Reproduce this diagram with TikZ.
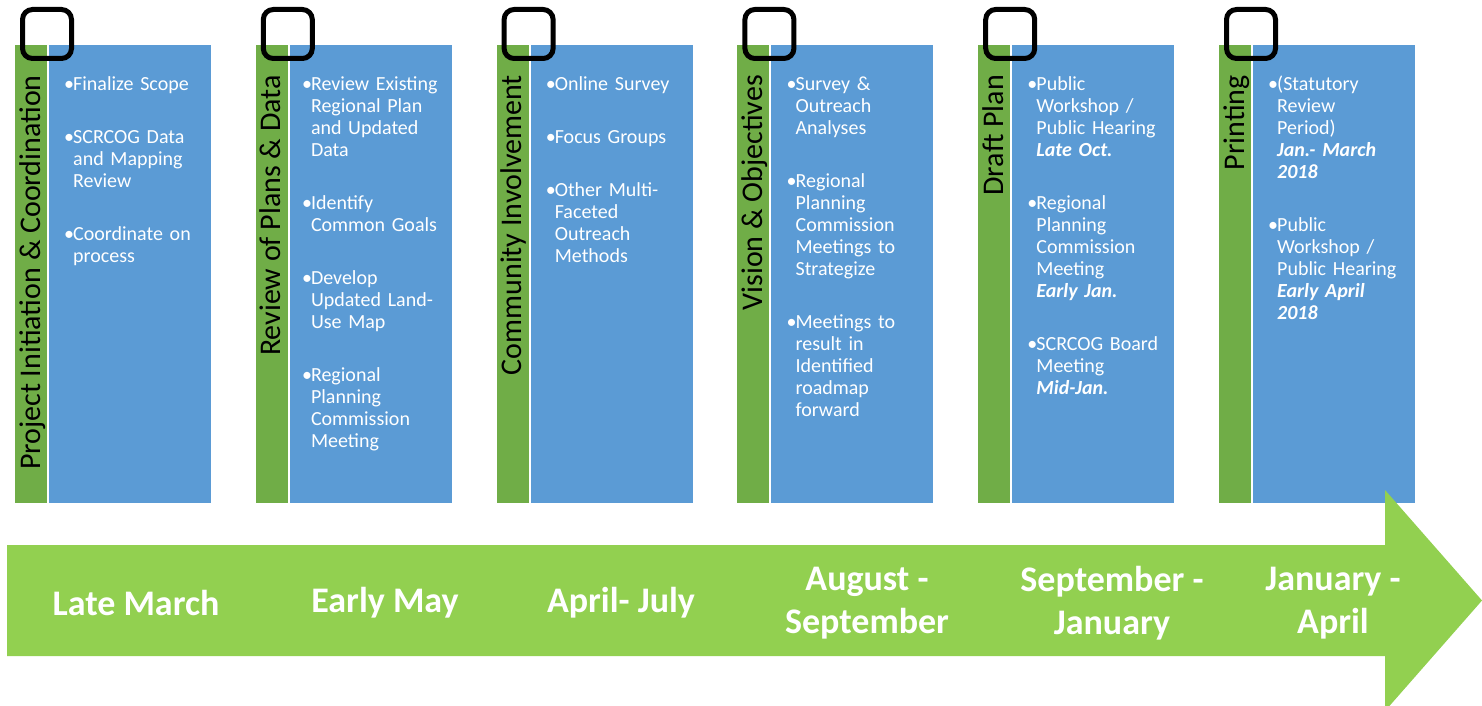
\documentclass[tikz,border=0pt]{standalone}
\usepackage{fontspec}
\setmainfont{Carlito}
\definecolor{phasegreen}{HTML}{70AD47}
\definecolor{boxblue}{HTML}{5B9BD5}
\definecolor{arrowgreen}{HTML}{92D050}
\newcommand{\itm}[1]{\hangindent=9pt\hangafter=1\noindent\strut\makebox[9pt][l]{\textbullet}#1\par}
\newcommand{\gap}{\vspace{31pt}}
\newcommand{\dt}[1]{\textbf{\textit{#1}}}
\tikzset{
  greenbar/.style={fill=phasegreen},
  bluebox/.style={fill=boxblue},
  marker/.style={draw=black,line width=5pt,rounded corners=10pt},
  phaselabel/.style={rotate=90,anchor=base east,inner sep=0pt,font=\fontsize{30}{34}\selectfont,text=black},
  itemtext/.style={anchor=north west,inner sep=0pt,text width=165pt,align=left,text=white,font=\fontsize{20}{22}\selectfont},
  datelabel/.style={anchor=center,inner sep=0pt,align=center,text=white,font=\fontsize{36}{43}\selectfont\bfseries}
}
\begin{document}
\begin{tikzpicture}[x=1pt,y=-1pt]
\useasboundingbox (0,0) rectangle (1482,706);
% columns
\foreach \k in {0,...,5}{
  \pgfmathsetmacro{\dx}{240.8*\k}
  \fill[greenbar] (15+\dx,45) rectangle (47+\dx,503);
  \fill[bluebox] (49+\dx,45) rectangle (211+\dx,503);
}
% phase labels
\node[phaselabel] (p1) at (40,75) {Project Initiation \& Coordination};
\node[phaselabel] (p2) at (280.8,75) {Review of Plans \& Data};
\node[phaselabel] (p3) at (521.6,75) {Community Involvement};
\node[phaselabel] (p4) at (762.4,75) {Vision \& Objectives};
\node[phaselabel] (p5) at (1003.2,75) {Draft Plan};
\node[phaselabel] (p6) at (1244,75) {Printing};
% item texts
\node[itemtext] (t1) at (64,74.6) {%
\itm{Finalize Scope}\gap
\itm{SCRCOG Data\newline and Mapping\newline Review}\gap
\itm{Coordinate on\newline process}};
\node[itemtext] (t2) at (301.8,74.6) {%
\itm{Review Existing\newline Regional Plan\newline and Updated\newline Data}\gap
\itm{Identify\newline Common Goals}\gap
\itm{Develop\newline Updated Land-\newline Use Map}\gap
\itm{Regional\newline Planning\newline Commission\newline Meeting}};
\node[itemtext] (t3) at (545.6,74.6) {%
\itm{Online Survey}\gap
\itm{Focus Groups}\gap
\itm{Other Multi-\newline Faceted\newline Outreach\newline Methods}};
\node[itemtext] (t4) at (786.4,74.6) {%
\itm{Survey \&\newline Outreach\newline Analyses}\gap
\itm{Regional\newline Planning\newline Commission\newline Meetings to\newline Strategize}\gap
\itm{Meetings to\newline result in\newline Identified\newline roadmap\newline forward}};
\node[itemtext] (t5) at (1027.2,74.6) {%
\itm{Public\newline Workshop /\newline Public Hearing\newline \dt{Late Oct.}}\gap
\itm{Regional\newline Planning\newline Commission\newline Meeting\newline \dt{Early Jan.}}\gap
\itm{SCRCOG Board\newline Meeting\newline \dt{Mid-Jan.}}};
\node[itemtext] (t6) at (1268,74.6) {%
\itm{(Statutory\newline Review\newline Period)\newline \dt{Jan.- March}\newline \dt{2018}}\gap
\itm{Public\newline Workshop /\newline Public Hearing\newline \dt{Early April}\newline \dt{2018}}};
% markers
\foreach \k in {0,...,5}{
  \pgfmathsetmacro{\dx}{240.8*\k}
  \draw[marker] (22.5+\dx,9.5) rectangle (71.5+\dx,58.5);
}
% timeline arrow
\fill[arrowgreen] (7,545) -- (1385,545) -- (1385,490) -- (1482,600.5) -- (1385,711) -- (1385,656) -- (7,656) -- cycle;
\node[datelabel] (d1) at (136,603) {Late March};
\node[datelabel] (d2) at (385,603) {Early May};
\node[datelabel] (d3) at (621,603) {April- July};
\node[datelabel] (d4) at (867,603) {August -\\September};
\node[datelabel] (d5) at (1112,603) {September -\\January};
\node[datelabel] (d6) at (1333,603) {January -\\April};
\end{tikzpicture}
\end{document}
